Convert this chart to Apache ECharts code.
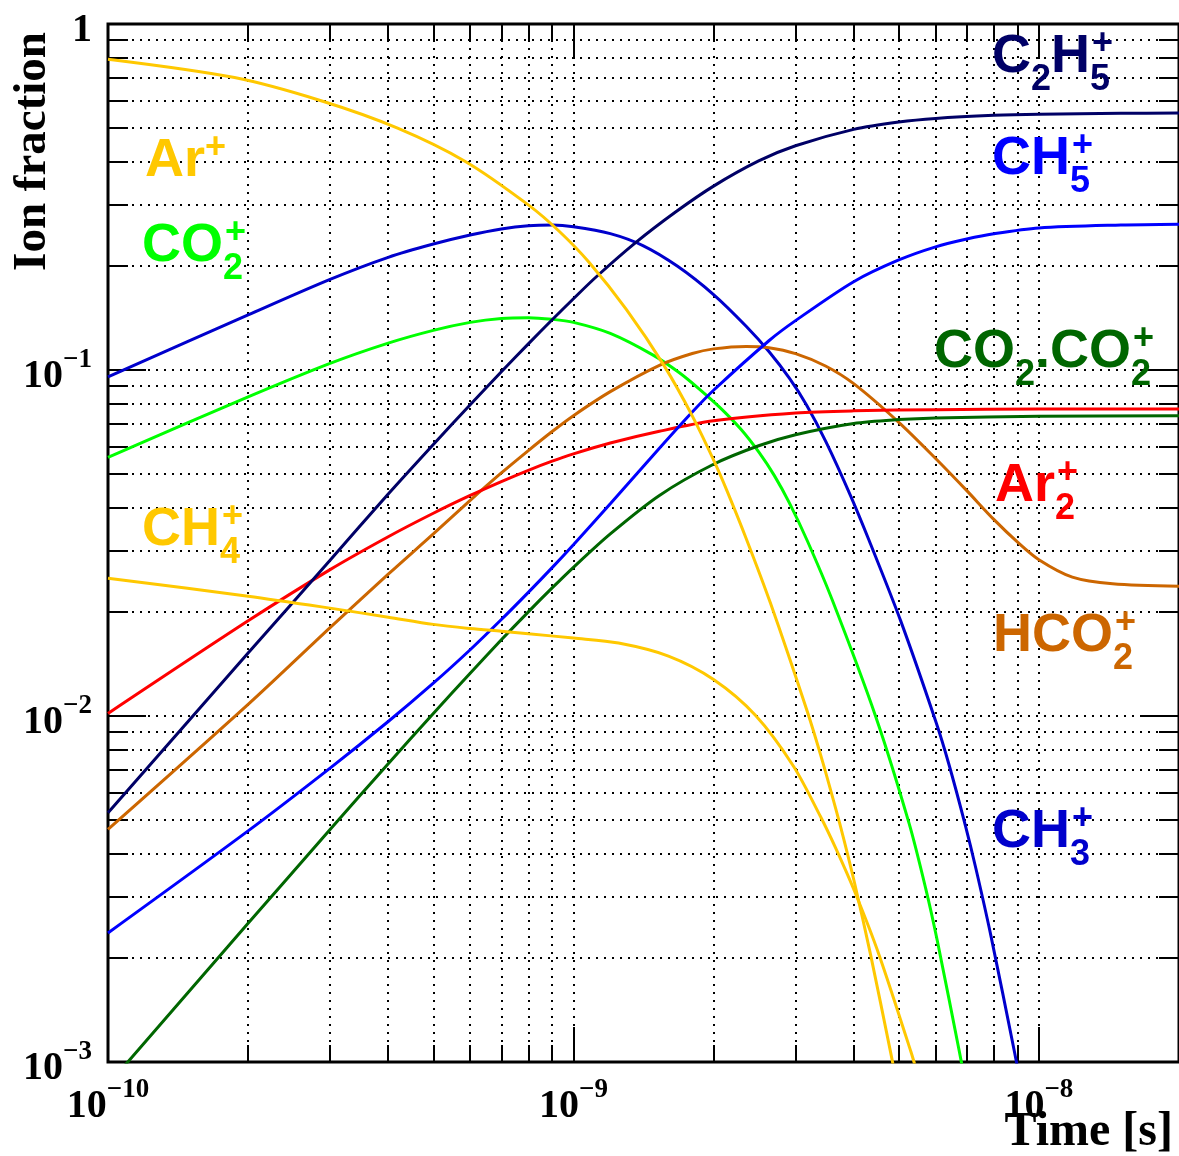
<!DOCTYPE html>
<html>
<head>
<meta charset="utf-8">
<title>Ion fraction vs time</title>
<script src="https://cdn.jsdelivr.net/npm/echarts@6/dist/echarts.min.js"></script>
<style>
html, body { margin: 0; padding: 0; background: #fff; }
#chart { width: 1179px; height: 1156px; }
</style>
</head>
<body>
<div id="chart"></div>
<script>
// tick positions
var xMajor = [1e-10, 1e-9, 1e-8];
var xMinor = [2e-10, 3e-10, 4e-10, 5e-10, 6e-10, 7e-10, 8e-10, 9e-10,
              2e-9, 3e-9, 4e-9, 5e-9, 6e-9, 7e-9, 8e-9, 9e-9, 2e-8];
var yMajor = [1e-3, 1e-2, 1e-1, 1];
var yMinor = [2e-3, 3e-3, 4e-3, 5e-3, 6e-3, 7e-3, 8e-3, 9e-3,
              2e-2, 3e-2, 4e-2, 5e-2, 6e-2, 7e-2, 8e-2, 9e-2,
              0.2, 0.3, 0.4, 0.5, 0.6, 0.7, 0.8, 0.9];

// Ar+
var arT = [1e-10, 1.87e-10, 2.87e-10, 4.19e-10, 5.87e-10, 8e-10, 9.33e-10, 1.08e-9, 1.3e-9, 1.567e-9, 1.8e-9,
           2.02e-9, 2.14e-9, 2.35e-9, 2.65e-9, 3.18e-9, 3.42e-9, 3.66e-9, 3.81e-9, 4.02e-9, 4.35e-9, 4.8e-9, 4.9e-9];
var arF = [0.791, 0.70, 0.60, 0.50, 0.40, 0.30, 0.2513, 0.2048, 0.1494, 0.1028, 0.0737,
           0.0534, 0.0446, 0.0326, 0.0212, 0.0103, 0.00748, 0.0054, 0.0044, 0.00328, 0.00204, 0.00107, 0.00093];
// CH4+
var ch4T = [1e-10, 2e-10, 3e-10, 4e-10, 5e-10, 6e-10, 7e-10, 8e-10, 1e-9, 1.25e-9, 1.6e-9, 2e-9,
            2.46e-9, 2.97e-9, 3.39e-9, 3.66e-9, 4.04e-9, 4.53e-9, 5.31e-9, 5.5e-9];
var ch4F = [0.0250, 0.0222, 0.0205, 0.0193, 0.0184, 0.0179, 0.01757, 0.01728, 0.0168, 0.01625, 0.0149, 0.01275,
            0.01005, 0.00716, 0.00514, 0.00415, 0.00306, 0.00205, 0.00107, 0.00091];
// CO2+
var co2T = [1e-10, 2e-10, 3e-10, 4e-10, 5e-10, 6e-10, 7e-10, 8e-10, 9e-10, 1e-9, 1.2e-9, 1.48e-9, 1.689e-9,
            1.864e-9, 2.06e-9, 2.29e-9, 2.507e-9, 2.7e-9, 2.91e-9, 3.18e-9, 3.6e-9, 4.46e-9, 5.26e-9, 5.71e-9,
            6.05e-9, 6.74e-9, 6.95e-9];
var co2F = [0.0559, 0.0836, 0.1045, 0.1196, 0.1302, 0.1373, 0.1409, 0.1416, 0.1401, 0.1373, 0.1276, 0.1106, 0.0982,
            0.0881, 0.0781, 0.0674, 0.0577, 0.0496, 0.0413, 0.0321, 0.0216, 0.00997, 0.0049, 0.00318,
            0.00224, 0.00108, 0.00087];
// CH3+
var ch3T = [1e-10, 2e-10, 3e-10, 4e-10, 5e-10, 6e-10, 7e-10, 8e-10, 9e-10, 1e-9, 1.2e-9, 1.41e-9, 1.674e-9,
            2e-9, 2.35e-9, 2.63e-9, 2.91e-9, 3.17e-9, 3.49e-9, 3.94e-9, 4.32e-9, 5.05e-9, 6e-9, 6.4e-9,
            6.95e-9, 7.32e-9, 7.88e-9, 8.85e-9, 9.1e-9];
var ch3F = [0.0956, 0.1443, 0.1828, 0.2117, 0.2312, 0.2455, 0.2556, 0.2612, 0.2625, 0.2596, 0.2479, 0.2289, 0.1994,
            0.1652, 0.1338, 0.1131, 0.0947, 0.0791, 0.0619, 0.0433, 0.0321, 0.0188, 0.00967, 0.00729,
            0.00483, 0.00363, 0.00233, 0.00108, 0.00089];
// C2H5+
var c2h5T = [1e-10, 2e-10, 3e-10, 4e-10, 5e-10, 6e-10, 7e-10, 8e-10, 9e-10, 1e-9, 1.12e-9, 1.36e-9, 1.66e-9,
             2e-9, 2.5e-9, 3e-9, 4e-9, 5e-9, 6e-9, 8e-9, 1e-8, 1.5e-8, 2e-8];
var c2h5F = [0.00525, 0.0152, 0.0282, 0.0438, 0.0609, 0.0794, 0.0988, 0.119, 0.1397, 0.1607, 0.186, 0.2334, 0.2866,
             0.340, 0.402, 0.4447, 0.496, 0.521, 0.5336, 0.5444, 0.5487, 0.552, 0.553];
// CH5+
var ch5T = [1e-10, 2e-10, 3e-10, 4e-10, 5e-10, 6e-10, 7e-10, 8e-10, 9e-10, 1e-9, 1.2e-9, 1.53e-9, 1.8e-9,
            2e-9, 2.63e-9, 3e-9, 4e-9, 5e-9, 6e-9, 7e-9, 8e-9, 1e-8, 1.5e-8, 2e-8];
var ch5F = [0.00236, 0.004655, 0.00707, 0.00964, 0.01244, 0.01554, 0.0190, 0.02277, 0.02684, 0.03126, 0.04108, 0.0594, 0.0756,
            0.0874, 0.1215, 0.1389, 0.180, 0.208, 0.227, 0.239, 0.2475, 0.2573, 0.2625, 0.264];
// Ar2+
var ar2T = [1e-10, 2e-10, 3e-10, 4e-10, 5e-10, 6e-10, 7e-10, 8e-10, 9e-10, 1e-9, 1.2e-9, 1.53e-9, 2e-9,
            3e-9, 4e-9, 6e-9, 1e-8, 2e-8];
var ar2F = [0.01017, 0.01884, 0.02649, 0.03297, 0.03854, 0.04339, 0.0476, 0.0513, 0.0545, 0.0572, 0.0615, 0.0665, 0.0713,
            0.0751, 0.0762, 0.0768, 0.0771, 0.0771];
// HCO2+
var hco2T = [1e-10, 2e-10, 3e-10, 4e-10, 5e-10, 6e-10, 7e-10, 8e-10, 9e-10, 1e-9, 1.2e-9, 1.53e-9, 1.8e-9,
             2e-9, 2.35e-9, 2.63e-9, 3e-9, 3.48e-9, 4e-9, 5e-9, 6e-9, 7e-9, 8e-9, 9e-9, 1e-8, 1.18e-8, 1.44e-8, 2e-8];
var hco2F = [0.0047, 0.0108, 0.0180, 0.0257, 0.0336, 0.042, 0.0504, 0.0585, 0.0664, 0.0738, 0.0866, 0.1032, 0.1116,
             0.1151, 0.117, 0.116, 0.1115, 0.1027, 0.0913, 0.0706, 0.0555, 0.0448, 0.037, 0.0318, 0.0283, 0.0252, 0.0241, 0.0237];
// CO2.CO2+
var dimT = [1e-10, 2e-10, 3e-10, 4e-10, 5e-10, 6e-10, 7e-10, 8e-10, 9e-10, 1e-9, 1.2e-9, 1.53e-9,
            2e-9, 2.5e-9, 3e-9, 4e-9, 5e-9, 6e-9, 1e-8, 2e-8];
var dimF = [0.000859, 0.002516, 0.004696, 0.00728, 0.01017, 0.0133, 0.0166, 0.02, 0.02345, 0.0269, 0.0336, 0.0434,
            0.0534, 0.0604, 0.065, 0.07005, 0.0719, 0.0727, 0.0735, 0.0737];

function pairs(t, f) {
  return t.map(function (v, i) { return [v, f[i]]; });
}

var curves = [
  {name: 'CH3+', t: ch3T, f: ch3F, color: '#0000cc'},
  {name: 'CO2+', t: co2T, f: co2F, color: '#00ff00'},
  {name: 'HCO2+', t: hco2T, f: hco2F, color: '#cc6600'},
  {name: 'Ar2+', t: ar2T, f: ar2F, color: '#ff0000'},
  {name: 'CO2.CO2+', t: dimT, f: dimF, color: '#006600'},
  {name: 'CH5+', t: ch5T, f: ch5F, color: '#0000ff'},
  {name: 'C2H5+', t: c2h5T, f: c2h5F, color: '#000066'},
  {name: 'CH4+', t: ch4T, f: ch4F, color: '#ffc800'},
  {name: 'Ar+', t: arT, f: arF, color: '#ffc800'}
];

var tickRich = {
  b: {fontFamily: 'Liberation Serif', fontWeight: 'bold', fontSize: 40, lineHeight: 40, height: 40, color: '#000', verticalAlign: 'bottom'},
  s: {fontFamily: 'Liberation Serif', fontWeight: 'bold', fontSize: 27, lineHeight: 7, height: 7, color: '#000', verticalAlign: 'top'}
};
function powLabel(v) {
  var e = Math.round(Math.log10(v));
  return e === 0 ? '{b|1}' : '{b|10}{s|\u2212' + (-e) + '}';
}

var gridLine = {show: true, lineStyle: {color: '#000', width: 2, type: [2, 6]}};

function xAx(grid, pos, ticks, len, opts) {
  var a = {
    type: 'log', logBase: 10, min: 1e-10, max: 2e-8, gridIndex: grid, position: pos,
    axisLine: {show: false},
    axisTick: {show: true, inside: true, length: len, customValues: ticks, lineStyle: {color: '#000', width: 2}},
    axisLabel: {show: false},
    splitLine: {show: false},
    minorTick: {show: false}
  };
  return Object.assign(a, opts || {});
}
function yAx(grid, pos, ticks, len, opts) {
  var a = {
    type: 'log', logBase: 10, min: 1e-3, max: 1, gridIndex: grid, position: pos,
    axisLine: {show: false},
    axisTick: {show: true, inside: true, length: len, customValues: ticks, lineStyle: {color: '#000', width: 2}},
    axisLabel: {show: false},
    splitLine: {show: false},
    minorTick: {show: false}
  };
  return Object.assign(a, opts || {});
}

var xAll = xMajor.concat(xMinor);
var yAll = yMajor.concat(yMinor);

// formula labels: m main, b subscript, k subscript with a superscript stacked over it, p superscript
var labelFont = '"Liberation Sans", Arial, sans-serif';
var annoRich = {
  m: {font: 'bold 54px ' + labelFont, height: 58, lineHeight: 106, verticalAlign: 'top'},
  b: {font: 'bold 36px ' + labelFont, height: 105, lineHeight: 106, verticalAlign: 'top'},
  k: {font: 'bold 36px ' + labelFont, height: 105, lineHeight: 106, verticalAlign: 'top', width: 2},
  p: {font: 'bold 36px ' + labelFont, height: 32, lineHeight: 106, verticalAlign: 'top'}
};
var annotations = [
  {text: '{m|C}{b|2}{m|H}{k|5}{p|+}', color: '#000066', x: 992, top: 38},
  {text: '{m|CH}{k|5}{p|+}', color: '#0000ff', x: 992, top: 140},
  {text: '{m|Ar}{p|+}', color: '#ffc800', x: 145, top: 142},
  {text: '{m|CO}{k|2}{p|+}', color: '#00ff00', x: 142, top: 227},
  {text: '{m|CO}{b|2}{m|.CO}{k|2}{p|+}', color: '#006600', x: 934, top: 333},
  {text: '{m|Ar}{k|2}{p|+}', color: '#ff0000', x: 995, top: 467},
  {text: '{m|CH}{k|4}{p|+}', color: '#ffc800', x: 142, top: 511},
  {text: '{m|HCO}{k|2}{p|+}', color: '#cc6600', x: 993, top: 617},
  {text: '{m|CH}{k|3}{p|+}', color: '#0000cc', x: 992, top: 813}
];

var chart = echarts.init(document.getElementById('chart'));
chart.setOption({
  backgroundColor: '#fff',
  animation: false,
  grid: [
    {left: 108, right: 0, top: 24, bottom: 94, show: true, borderColor: '#000', borderWidth: 3,
     backgroundColor: 'transparent', containLabel: false, outerBoundsMode: 'none'},
    {left: 108, right: 0, top: 24, bottom: 94, show: false, containLabel: false, outerBoundsMode: 'none'}
  ],
  xAxis: [
    xAx(0, 'bottom', xAll, 17, {
      splitLine: gridLine,
      axisLabel: {show: true, customValues: xMajor, margin: 25, formatter: powLabel, rich: tickRich},
      name: 'Time [s]', nameLocation: 'end', nameGap: -6, nameMoveOverlap: false,
      nameTextStyle: {fontFamily: 'Liberation Serif', fontWeight: 'bold', fontSize: 48, lineHeight: 48,
                      color: '#000', align: 'right', verticalAlign: 'top', padding: [47, 0, 0, 0]}
    }),
    xAx(0, 'top', xAll, 17),
    xAx(1, 'bottom', xMajor, 35),
    xAx(1, 'top', xMajor, 35)
  ],
  yAxis: [
    yAx(0, 'left', yAll, 20, {
      splitLine: gridLine,
      axisLabel: {show: true, customValues: yMajor, margin: 16, padding: [14, 0, 0, 0], formatter: powLabel, rich: tickRich},
      name: 'Ion fraction', nameLocation: 'end', nameRotate: 90, nameGap: -8, nameMoveOverlap: false,
      nameTextStyle: {fontFamily: 'Liberation Serif', fontWeight: 'bold', fontSize: 47, lineHeight: 47,
                      color: '#000', align: 'right', verticalAlign: 'bottom', padding: [0, 0, 52, 0]}
    }),
    yAx(0, 'right', yAll, 20),
    yAx(1, 'left', yMajor, 38),
    yAx(1, 'right', yMajor, 38)
  ],
  series: curves.map(function (c) {
    return {
      type: 'line', name: c.name, xAxisIndex: 0, yAxisIndex: 0,
      data: pairs(c.t, c.f), showSymbol: false, symbol: 'none', smooth: 0.3, clip: true,
      lineStyle: {color: c.color, width: 3}, itemStyle: {color: c.color}
    };
  }),
  graphic: annotations.map(function (a) {
    return {
      type: 'text', x: a.x, y: a.top - 10, z: 100,
      style: {text: a.text, rich: annoRich, fill: a.color, align: 'left', verticalAlign: 'top'}
    };
  })
});
</script>
</body>
</html>
